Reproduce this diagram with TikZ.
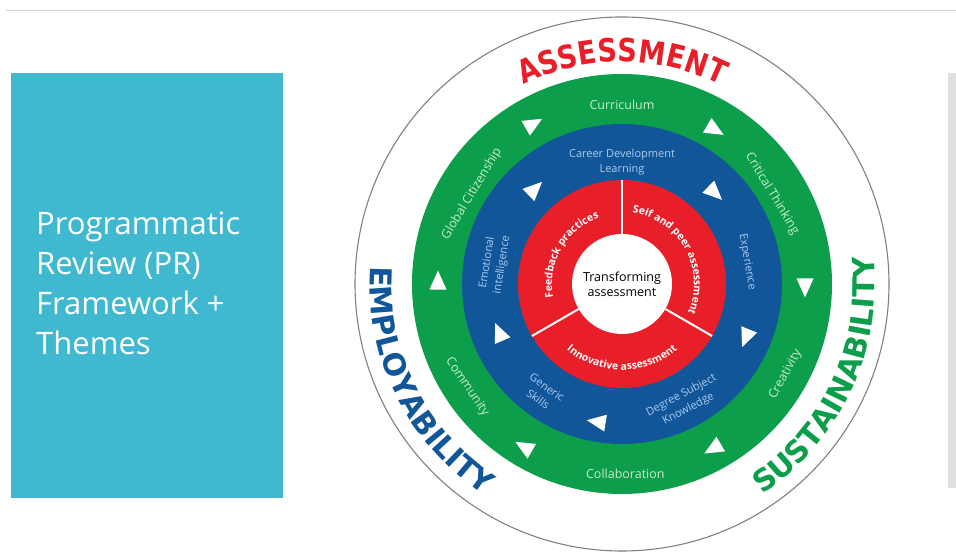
\documentclass[tikz,border=0pt]{standalone}
\usepackage{fontspec}
\setmainfont{Open Sans}
\newfontfamily\themefont{DejaVu Sans}
\newfontfamily\narrowthemefont{DejaVu Sans}[FakeStretch=0.85]
\usetikzlibrary{shapes.geometric,decorations.text}
\definecolor{prteal}{RGB}{64,184,208}
\definecolor{ringgreen}{RGB}{12,158,74}
\definecolor{ringblue}{RGB}{17,86,153}
\definecolor{ringred}{RGB}{232,31,41}
\definecolor{greentext}{RGB}{200,236,200}
\definecolor{bluetext}{RGB}{172,204,238}
\definecolor{sidegrey}{RGB}{224,224,224}
\definecolor{rulegrey}{RGB}{212,212,212}

\begin{document}
\begin{tikzpicture}[x=1pt, y=1pt,
        titletext/.style={text=white, align=left, inner sep=0pt, font=\fontsize{31}{40}\selectfont},
        greenlabel/.style={text=greentext, align=center, inner sep=1pt, font=\fontsize{12.5}{15}\selectfont},
        bluelabel/.style={text=bluetext, align=center, inner sep=1pt, font=\fontsize{11}{15}\selectfont},
        hubcircle/.style={circle, fill=white, minimum size=100pt, inner sep=0pt, align=center, font=\fontsize{12.5}{15}\selectfont},
        tri/.style={isosceles triangle, isosceles triangle stretches, fill=white, inner sep=0pt, minimum width=17pt, minimum height=19pt},
        divider/.style={white, line width=2pt},
        redword/.style={decorate, decoration={text along path, text align=center, text color=white, text={|\bfseries\fontsize{10.5}{10.5}\selectfont|#1}}},
        themeword/.style={decorate, decoration={text along path, text align=center, text={#1}}}]
        \useasboundingbox (0,0) rectangle (956,553);
        \draw[rulegrey, line width=1pt] (6,542) -- (956,542);
        \fill[prteal] (11,55) rectangle (283,480);
        \fill[sidegrey] (948,65) rectangle (956,480);
        \node[titletext, anchor=base west] (title) at (36,198) {Programmatic\\Review (PR)\\Framework +\\Themes};
        \begin{scope}[shift={(622,269)}]
        \draw[gray, line width=1.1pt] (0,0) circle (267pt);
        \fill[ringgreen] (0,0) circle (210pt);
        \fill[ringblue] (0,0) circle (160pt);
        \fill[ringred] (0,0) circle (104pt);
        \node[hubcircle] (hub) at (0,0) {Transforming\\assessment};
        \draw[divider] (hub.90) -- (90:104pt);
        \draw[divider] (hub.210) -- (210:104pt);
        \draw[divider] (hub.330) -- (330:104pt);
        \path[redword={Feedback practices}] (230:70pt) arc[start angle=230, end angle=70, radius=70pt];
        \path[redword={Self and peer assessment}] (110:72pt) arc[start angle=110, end angle=-52, radius=72pt];
        \path[redword={Innovative assessment}] (195:86pt) arc[start angle=195, end angle=345, radius=86pt];
        \node[bluelabel] (career) at (90:122pt) {Career Development\\Learning};
        \node[bluelabel, rotate=-80] (experience) at (10:127pt) {Experience};
        \node[bluelabel, rotate=28] (degree) at (-62:134pt) {Degree Subject\\Knowledge};
        \node[bluelabel, rotate=-36] (generic) at (234:135pt) {Generic\\Skills};
        \node[bluelabel, rotate=81] (emotional) at (171:129pt) {Emotional\\intelligence};
        \node[tri, rotate=-44] (b1) at (46:130pt) {};
        \node[tri, rotate=44] (b2) at (134:129pt) {};
        \node[tri, rotate=113] (b3) at (203:132pt) {};
        \node[tri, rotate=171] (b4) at (261:140pt) {};
        \node[tri, rotate=248] (b5) at (338:135pt) {};
        \node[greenlabel] (curriculum) at (90:179pt) {Curriculum};
        \node[greenlabel, rotate=-59] (critical) at (31:175pt) {Critical Thinking};
        \node[greenlabel, rotate=61] (creativity) at (-29:187pt) {Creativity};
        \node[greenlabel] (collaboration) at (-89:190pt) {Collaboration};
        \node[greenlabel, rotate=-56] (community) at (213.6:186pt) {Community};
        \node[greenlabel, rotate=59] (global) at (149:175pt) {Global Citizenship};
        \node[tri, rotate=-90] (g1) at (0:183pt) {};
        \node[tri, rotate=-30] (g2) at (60:180pt) {};
        \node[tri, rotate=30] (g3) at (120:183pt) {};
        \node[tri, rotate=90] (g4) at (180:184pt) {};
        \node[tri, rotate=150] (g5) at (240:190pt) {};
        \node[tri, rotate=210] (g6) at (300:188pt) {};
        \path[themeword={|\narrowthemefont\bfseries\fontsize{32}{32}\selectfont\color{ringred}|ASSESSMENT}] (160:222pt) arc[start angle=160, end angle=20, radius=222pt];
        \path[themeword={|\themefont\bfseries\fontsize{30}{30}\selectfont\color{ringblue}|EMPLOYABILITY}] (140:252pt) arc[start angle=140, end angle=273, radius=252pt];
        \path[themeword={|\themefont\bfseries\fontsize{30}{30}\selectfont\color{ringgreen}|SUSTAINABILITY}] (-92:253pt) arc[start angle=-92, end angle=42, radius=253pt];
        \end{scope}
\end{tikzpicture}
\end{document}
